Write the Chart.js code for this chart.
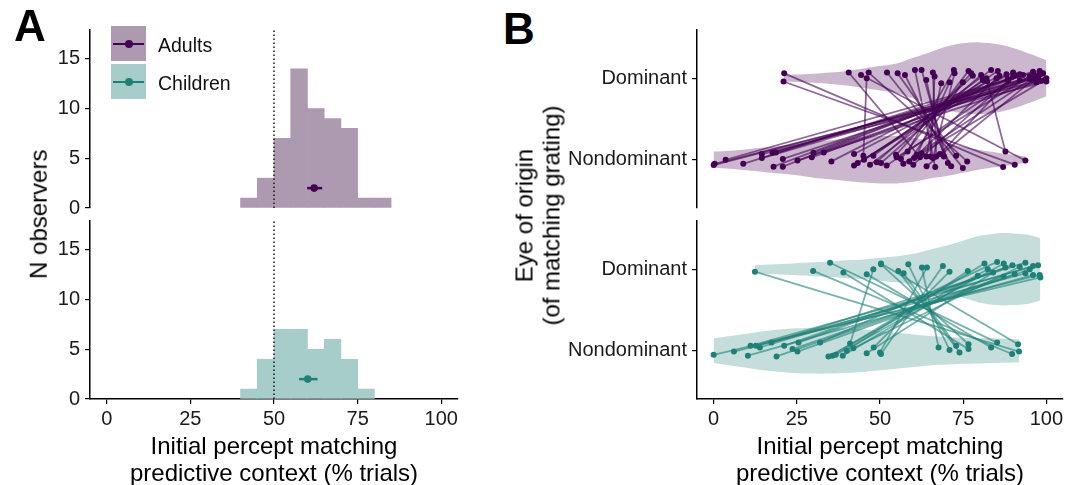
<!DOCTYPE html>
<html><head><meta charset="utf-8">
<script src="https://cdn.jsdelivr.net/npm/chart.js@4/dist/chart.umd.min.js"></script>
<style>
body{margin:0;background:#fff;}
#wrap{position:relative;width:1075px;height:485px;overflow:hidden;font-family:"Liberation Sans",Arial,sans-serif;color:#000;background:#fff;}
canvas{position:absolute;}
.t{position:absolute;white-space:nowrap;font-size:24px;line-height:26.5px;text-align:center;width:400px;}
.rot{transform:rotate(-90deg);transform-origin:center center;width:300px;}
.letter{position:absolute;font-weight:bold;font-size:44px;line-height:44px;}
.box{position:absolute;width:35px;height:35px;}
.bl{position:absolute;left:2px;width:31px;top:16.5px;height:2px;}
.bd{position:absolute;left:13.5px;top:13.5px;width:8px;height:8px;border-radius:50%;}
.lt{position:absolute;font-size:19.5px;line-height:20px;white-space:nowrap;color:#111;}
</style></head>
<body><div id="wrap">
<canvas id="aTop" width="470" height="240" style="left:0;top:0"></canvas>
<canvas id="aBot" width="470" height="250" style="left:0;top:190px"></canvas>
<canvas id="bTop" width="515" height="240" style="left:560px;top:0"></canvas>
<canvas id="bBot" width="515" height="250" style="left:560px;top:190px"></canvas>

<div class="letter" style="left:14px;top:4px">A</div>
<div class="letter" style="left:503px;top:7px">B</div>

<div class="box" style="left:111px;top:26px;background:#AD99B0"><div class="bl" style="background:#440154"></div><div class="bd" style="background:#440154"></div></div>
<div class="box" style="left:111px;top:64px;background:#A7CDCB"><div class="bl" style="background:#1E8077"></div><div class="bd" style="background:#1E8077"></div></div>
<div class="lt" style="left:158px;top:34.5px">Adults</div>
<div class="lt" style="left:158px;top:72.5px">Children</div>

<div class="t rot" style="left:-111px;top:201px;height:26.5px">N observers</div>
<div class="t rot" style="left:387.5px;top:188.5px;height:53px">Eye of origin<br>(of matching grating)</div>
<div class="t" style="left:74px;top:433px">Initial percept matching<br>predictive context (% trials)</div>
<div class="t" style="left:680px;top:433px">Initial percept matching<br>predictive context (% trials)</div>
</div>
<script>
// ---------- data ----------
const binWidth = 5;
const adultBinStarts = [40,45,50,55,60,65,70,75,80];
const adultCounts    = [1,3,7,14,10,9,8,1,1];
const childBinStarts = [40,45,50,55,60,65,70,75];
const childCounts    = [1,4,7,7,5,6,4,1];
const adultMean = 62.0, adultLo = 59.9, adultHi = 64.4;
const childMean = 60.1, childLo = 57.5, childHi = 63.0;
const meanRowY = 2;
const chanceLevel = 50;
const countTicks = [0,5,10,15];
const xTickValues = [0,25,50,75,100];
const eyeLabels = ['Nondominant','Dominant']; // levels 1, 2

const adultNd   = [0,0.3,3.6,8.9,14.5,14.5,17.7,18.7,18,20.8,20.8,25.2,29.5,30,33.1,35.4,42.2,42.2,43.3,45.2,47,48,49,50.3,54.8,56.3,58.3,58.8,60.3,61.1,63.9,65.2,65.9,66.6,66.9,69.2,70.4,71.4,72.9,74.9,76.2,87,87.7,90.5,93.7,62,52,55,60,64,68,57,62.5,45];
const adultNdJ  = [-0.065,-0.05,0,-0.05,0.07,0.02,0.085,0.09,-0.085,0.01,-0.085,-0.01,0.03,0.085,0.09,-0.02,0.07,-0.07,-0.04,0,-0.06,0.05,-0.03,-0.04,0.06,0.01,0.1,-0.02,0.02,0.06,0.04,0.04,0.02,-0.09,0.04,0.04,-0.04,-0.08,0.05,-0.1,-0.02,-0.09,0.1,-0.06,-0.01,0.03,-0.07,0.03,-0.06,-0.08,0.07,-0.05,0.08,0.05];
const adultDom  = [100,98.5,98,96,100,97.5,92,96.5,90,98.2,88.4,95,99,93,97,85.9,90,82.2,88,85.4,80.9,83.4,77.9,80.4,77.4,76.6,72.2,74.9,85,70.9,68.4,66.4,72.4,60.5,65.9,63.9,62.5,57.5,55.3,52.1,46.6,21.2,82,21,44.3,40.6,92,95,88.5,96,90.5,97,99.5,46];
const adultDomJ = [0,-0.03,0.09,0.08,-0.04,0.01,-0.02,0.03,0.02,0.05,-0.01,-0.01,0.06,0.04,-0.05,0.03,0.07,-0.04,0.05,0.09,-0.02,0.1,0.03,0.04,0.06,0.09,0.1,-0.05,0,-0.05,-0.06,0.02,0.06,0.1,0.07,-0.02,0.1,0.04,0.06,0.07,0.07,0.06,0,-0.04,0.04,0.07,0.05,0.02,-0.03,-0.02,0.04,0.03,-0.02,0];

const childNd   = [0,6.1,10.3,11.1,12.7,13.9,17.4,18.9,21.2,23.7,25.2,25.5,32,34.5,35.7,36.7,38.8,40,41,42,46,48.1,50,50.3,67.6,70.9,72.9,73.9,76.6,76.6,83.4,85.2,89.7,91.5,91.8];
const childNdJ  = [-0.05,-0.01,-0.06,0.06,0.06,0.04,0.1,-0.07,0.06,0.02,-0.01,0.1,0.1,-0.07,-0.06,-0.05,-0.06,0,0.09,0.03,-0.03,0.04,-0.02,-0.04,0.04,0.01,0.06,-0.02,0.08,0.02,0.04,0.1,-0.04,0.08,-0.01];
const childDom  = [98.2,98,96,97.5,93.7,96,93.7,90.5,89.8,87.2,95,87.7,85.2,82.4,81.4,87.2,79.4,76.4,48,92,84,70.9,64.1,68.9,62.6,58.5,57.1,55.5,50.3,39,46,35,29.9,50.3,12.4];
const childDomJ = [-0.1,-0.07,-0.07,0.05,-0.05,0.04,0.08,-0.06,0.05,-0.09,0,0.02,0.09,0,0.07,0.07,-0.08,-0.02,0,0.03,-0.04,-0.03,0.02,0.04,0.02,0.06,-0.05,-0.02,0.06,-0.04,-0.06,0.08,-0.02,0.07,-0.03];

// violin outlines: x grid and half-width (in level units)
const adultDomVX = [21,25,30,35,40,45,50,55,60,65,70,75,80,85,90,95,100];
const adultDomVW = [0.04,0.045,0.055,0.07,0.09,0.12,0.15,0.18,0.25,0.32,0.39,0.43,0.44,0.42,0.37,0.3,0.22];
const adultNdVX  = [0,5,10,15,20,25,30,35,40,45,50,55,60,65,70,75,80,85,90,93.7];
const adultNdVW  = [0.1,0.11,0.13,0.15,0.17,0.19,0.22,0.24,0.26,0.28,0.29,0.29,0.27,0.23,0.2,0.16,0.12,0.09,0.06,0.04];
const childDomVX = [12.4,15,20,25,30,35,40,45,50,55,60,65,70,75,80,85,90,95,98.2];
const childDomVW = [0.05,0.055,0.065,0.075,0.085,0.095,0.11,0.12,0.14,0.16,0.19,0.24,0.29,0.35,0.41,0.44,0.44,0.42,0.38];
const childNdVX  = [0,5,10,15,20,25,30,35,40,45,50,55,60,65,70,75,80,85,90,91.8];
const childNdVW  = [0.15,0.18,0.21,0.24,0.26,0.275,0.28,0.28,0.27,0.26,0.24,0.22,0.2,0.18,0.17,0.16,0.155,0.15,0.145,0.14];

// ---------- styling ----------
const FONT = '"Liberation Sans", Arial, sans-serif';
const TICK_COL = '#1a1a1a';
const tickFont = {family: FONT, size: 20};
const countMax = 17.9;
const eyeMin = 0.408, eyeMax = 2.592;
const ndLevel = 1, domLevel = 2;
Chart.defaults.font.family = FONT;

const gridOpts = {display:true, drawOnChartArea:false, drawTicks:true, tickLength:5, color:'#000', lineWidth:1.2, offset:false};
const borderOpts = {display:true, color:'#000', width:1.5};

function xScale(show) {
  return {type:'linear', min:-5, max:105, offset:false, display:show,
    afterBuildTicks: s => { s.ticks = xTickValues.map(v => ({value:v})); },
    afterFit: s => { s.height = show ? 30 : 0; },
    ticks:{font:tickFont, color:TICK_COL, padding:3, maxRotation:0, autoSkip:false},
    grid:gridOpts, border:borderOpts};
}

function baseOpts(pad, yScale, showX) {
  return {responsive:false, animation:false, events:[],
    layout:{padding:pad},
    plugins:{legend:{display:false}, tooltip:{enabled:false}},
    scales:{x:xScale(showX), y:yScale}};
}

function histChart(id, starts, counts, mean, lo, hi, fill, col, showX, pad) {
  const yScale = {type:'linear', min:0, max:countMax,
    afterBuildTicks: s => { s.ticks = countTicks.map(v => ({value:v})); },
    afterFit: s => { s.width = 90; },
    ticks:{font:tickFont, color:TICK_COL, padding:5},
    grid:gridOpts, border:borderOpts};
  new Chart(document.getElementById(id), {
    type:'bar',
    data:{datasets:[
      {type:'line', showLine:false, data:[{x:mean, y:meanRowY}], pointRadius:3.8, pointBackgroundColor:col, pointBorderWidth:0, order:0},
      {type:'line', data:[{x:lo, y:meanRowY},{x:hi, y:meanRowY}], borderColor:col, borderWidth:2.5, pointRadius:0, order:1},
      {type:'line', data:[{x:chanceLevel, y:0},{x:chanceLevel, y:countMax}], borderColor:'#222', borderWidth:1.6, borderDash:[1.6,2.4], pointRadius:0, order:2},
      {type:'bar', data:starts.map((s,i) => ({x:s + binWidth/2, y:counts[i]})), backgroundColor:fill, barPercentage:1, categoryPercentage:1, borderWidth:0, order:3}
    ]},
    options:baseOpts(pad, yScale, showX)
  });
}

function eyeChart(id, nd, ndJ, dom, domJ, ndVX, ndVW, domVX, domVW, ptCol, lineCol, violinCol, showX, pad) {
  const datasets = [];
  const pts = [];
  nd.forEach((v,i) => { pts.push({x:v, y:ndLevel + ndJ[i]}); pts.push({x:dom[i], y:domLevel + domJ[i]}); });
  datasets.push({type:'scatter', data:pts, pointRadius:3, pointBackgroundColor:ptCol, pointBorderWidth:0, order:0});
  nd.forEach((v,i) => datasets.push({type:'line', data:[{x:v, y:ndLevel + ndJ[i]},{x:dom[i], y:domLevel + domJ[i]}],
    borderColor:lineCol, borderWidth:1.8, pointRadius:0, order:1}));
  const addViolin = (vx, vw, lvl) => {
    datasets.push({type:'line', data:vx.map((x,i) => ({x, y:lvl + vw[i]})), borderColor:'rgba(0,0,0,0)', borderWidth:0,
      pointRadius:0, tension:0.35, fill:'+1', backgroundColor:violinCol, order:2});
    datasets.push({type:'line', data:vx.map((x,i) => ({x, y:lvl - vw[i]})), borderColor:'rgba(0,0,0,0)', borderWidth:0,
      pointRadius:0, tension:0.35, fill:false, order:2});
  };
  addViolin(domVX, domVW, domLevel);
  addViolin(ndVX, ndVW, ndLevel);
  const yScale = {type:'linear', min:eyeMin, max:eyeMax,
    afterBuildTicks: s => { s.ticks = eyeLabels.map((l,i) => ({value:i + 1})); },
    afterFit: s => { s.width = 137; },
    ticks:{font:tickFont, color:TICK_COL, padding:5, callback: v => eyeLabels[Math.round(v) - 1]},
    grid:gridOpts, border:borderOpts};
  new Chart(document.getElementById(id), {type:'scatter', data:{datasets}, options:baseOpts(pad, yScale, showX)});
}

histChart('aTop', adultBinStarts, adultCounts, adultMean, adultLo, adultHi, '#AD99B0', '#440154', false, {top:30,right:12,bottom:32,left:0});
histChart('aBot', childBinStarts, childCounts, childMean, childLo, childHi, '#A7CDCB', '#1E8077', true, {top:31,right:12,bottom:11,left:0});
eyeChart('bTop', adultNd, adultNdJ, adultDom, adultDomJ, adultNdVX, adultNdVW, adultDomVX, adultDomVW,
  '#440154', 'rgba(68,1,84,0.6)', '#CBB8CF', false, {top:30,right:12,bottom:32,left:0});
eyeChart('bBot', childNd, childNdJ, childDom, childDomJ, childNdVX, childNdVW, childDomVX, childDomVW,
  '#1E8077', 'rgba(30,128,119,0.6)', '#C5DEDC', true, {top:31,right:12,bottom:11,left:0});
</script>
</body></html>
